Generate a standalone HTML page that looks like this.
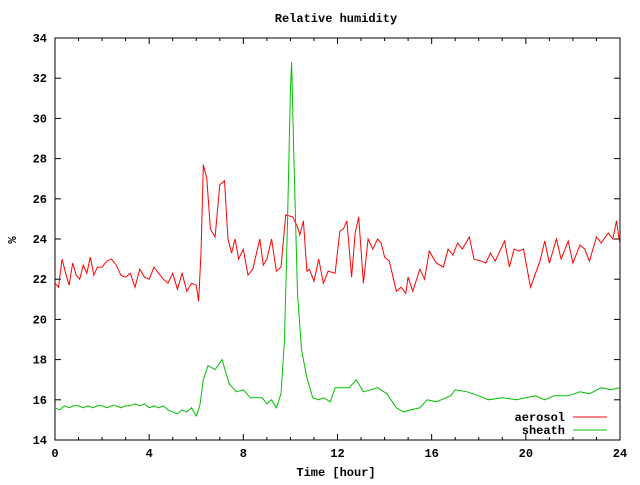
<!DOCTYPE html>
<html><head><meta charset="utf-8"><style>
body{margin:0;background:#fff}
svg text{font-family:"Liberation Mono",monospace;font-weight:bold;font-size:12px;fill:#000}
</style></head><body>
<svg id="c" width="640" height="480" viewBox="0 0 640 480">
<rect width="640" height="480" fill="#fff"/>
<text x="336" y="22" text-anchor="middle">Relative humidity</text>
<text x="336" y="476" text-anchor="middle">Time [hour]</text>
<text x="16" y="240" text-anchor="middle" transform="rotate(-90 16 240)">%</text>
<g id="axes"></g>
<g id="series"></g>
<g>
<text x="565" y="421" text-anchor="end">aerosol</text>
<line x1="573" y1="417" x2="607" y2="417" stroke="#ff0000"/>
<text x="565" y="434" text-anchor="end">sheath</text>
<line x1="573" y1="430" x2="607" y2="430" stroke="#00c000"/>
</g>
</svg>
<script>
const xTicks=[0,4,8,12,16,20,24];
const yTicks=[14,16,18,20,22,24,26,28,30,32,34];
const aerosolT=[0,0.15,0.3,0.45,0.6,0.75,0.9,1.05,1.2,1.35,1.5,1.65,1.8,2,2.2,2.4,2.6,2.8,3,3.2,3.4,3.6,3.8,4,4.2,4.4,4.6,4.8,5,5.2,5.4,5.6,5.8,6,6.1,6.2,6.3,6.45,6.6,6.8,7,7.2,7.35,7.5,7.65,7.8,8,8.2,8.4,8.7,8.85,9,9.2,9.4,9.6,9.8,10.1,10.3,10.4,10.55,10.7,10.8,11,11.2,11.4,11.6,11.9,12.1,12.25,12.4,12.6,12.75,12.9,13.1,13.3,13.5,13.7,13.85,14,14.2,14.5,14.7,14.9,15,15.2,15.5,15.7,15.9,16.2,16.5,16.7,16.9,17.1,17.3,17.6,17.8,18.1,18.3,18.5,18.7,19.1,19.3,19.5,19.7,19.9,20.2,20.6,20.8,21,21.3,21.5,21.8,22,22.3,22.5,22.7,23,23.2,23.5,23.7,23.85,24];
const aerosolV=[21.8,21.6,23.0,22.3,21.7,22.8,22.2,22.0,22.7,22.3,23.1,22.2,22.6,22.6,22.9,23.0,22.7,22.2,22.1,22.3,21.6,22.5,22.1,22.0,22.6,22.3,22.0,21.8,22.3,21.5,22.3,21.4,21.8,21.7,20.9,23.3,27.7,27.0,24.5,24.1,26.7,26.9,24.0,23.3,24.0,23.0,23.5,22.2,22.5,24.0,22.7,23.0,24.0,22.4,22.6,25.2,25.1,24.6,24.2,24.9,22.4,22.5,21.9,23.0,21.8,22.4,22.3,24.4,24.5,24.9,22.1,24.3,25.1,21.8,24.0,23.5,24.0,23.8,23.1,22.9,21.4,21.6,21.3,22.1,21.4,22.5,22.0,23.4,22.8,22.6,23.5,23.2,23.8,23.5,24.1,23.0,22.9,22.8,23.3,22.9,23.9,22.6,23.5,23.4,23.5,21.6,22.9,23.9,22.8,24.0,23.0,23.9,22.8,23.7,23.5,22.9,24.1,23.8,24.3,24.0,24.9,23.7];
const sheathT=[0,0.2,0.4,0.6,0.8,1,1.2,1.4,1.6,1.8,2,2.2,2.4,2.6,2.8,3,3.2,3.4,3.6,3.8,4,4.2,4.4,4.6,4.8,5,5.2,5.4,5.6,5.8,6,6.15,6.3,6.5,6.8,7.1,7.4,7.7,8,8.3,8.8,9,9.2,9.4,9.6,9.75,9.87,10,10.05,10.15,10.3,10.47,10.7,10.95,11.2,11.4,11.7,11.9,12.2,12.5,12.8,13.1,13.4,13.7,14.1,14.5,14.8,15.1,15.5,15.8,16.2,16.8,17,17.5,18,18.4,19,19.6,20.4,20.8,21.2,21.8,22.3,22.7,23.2,23.6,24];
const sheathV=[15.6,15.5,15.7,15.6,15.7,15.7,15.6,15.7,15.6,15.7,15.7,15.6,15.7,15.7,15.6,15.7,15.7,15.8,15.7,15.8,15.6,15.7,15.6,15.7,15.5,15.4,15.3,15.5,15.4,15.6,15.2,15.7,17.0,17.7,17.5,18.0,16.8,16.4,16.5,16.1,16.1,15.8,16.0,15.6,16.3,19.0,24.6,31.4,32.8,28.0,21.3,18.5,17.1,16.1,16.0,16.1,15.9,16.6,16.6,16.6,17.0,16.4,16.5,16.6,16.3,15.6,15.4,15.5,15.6,16.0,15.9,16.2,16.5,16.4,16.2,16.0,16.1,16.0,16.2,16.0,16.2,16.2,16.4,16.3,16.6,16.5,16.6];
const NS="http://www.w3.org/2000/svg";
const X0=55,X1=620,Y0=440,Y1=38;
function sx(h){return X0+(h-0)/(24-0)*(X1-X0);}
function sy(v){return Y0-(v-14)/(34-14)*(Y0-Y1);}
const axes=document.getElementById('axes');
function mk(t,a,p){const e=document.createElementNS(NS,t);for(const k in a)e.setAttribute(k,a[k]);(p||axes).appendChild(e);return e;}
const frame=mk('rect',{x:X0,y:Y1,width:X1-X0,height:Y0-Y1,fill:'none',stroke:'#000'});


for(let h=0;h<=24;h++){const maj=h%4===0;const L=maj?6:3;
 mk('line',{x1:sx(h),y1:Y0,x2:sx(h),y2:Y0-L,stroke:'#000'});
 mk('line',{x1:sx(h),y1:Y1,x2:sx(h),y2:Y1+L,stroke:'#000'});}
xTicks.forEach(t=>{const e=mk('text',{x:sx(t),y:457,'text-anchor':'middle'});e.textContent=t;
 
 });
yTicks.forEach(t=>{mk('line',{x1:X0,y1:sy(t),x2:X0+6,y2:sy(t),stroke:'#000'});
 mk('line',{x1:X1,y1:sy(t),x2:X1-6,y2:sy(t),stroke:'#000'});
 const e=mk('text',{x:47,y:sy(t)+4,'text-anchor':'end'});e.textContent=t;
 
 });
const ser=document.getElementById('series');
function line(T,V,col,name){const d=T.map((t,i)=>(i?'L':'M')+sx(t).toFixed(1)+','+sy(V[i]).toFixed(1)).join('');
 const p=mk('path',{d:d,fill:'none',stroke:col,'stroke-width':1},ser);
 
 }
line(aerosolT,aerosolV,'#ff0000','aerosol-line');
line(sheathT,sheathV,'#00c000','sheath-line');
</script>
</body></html>
